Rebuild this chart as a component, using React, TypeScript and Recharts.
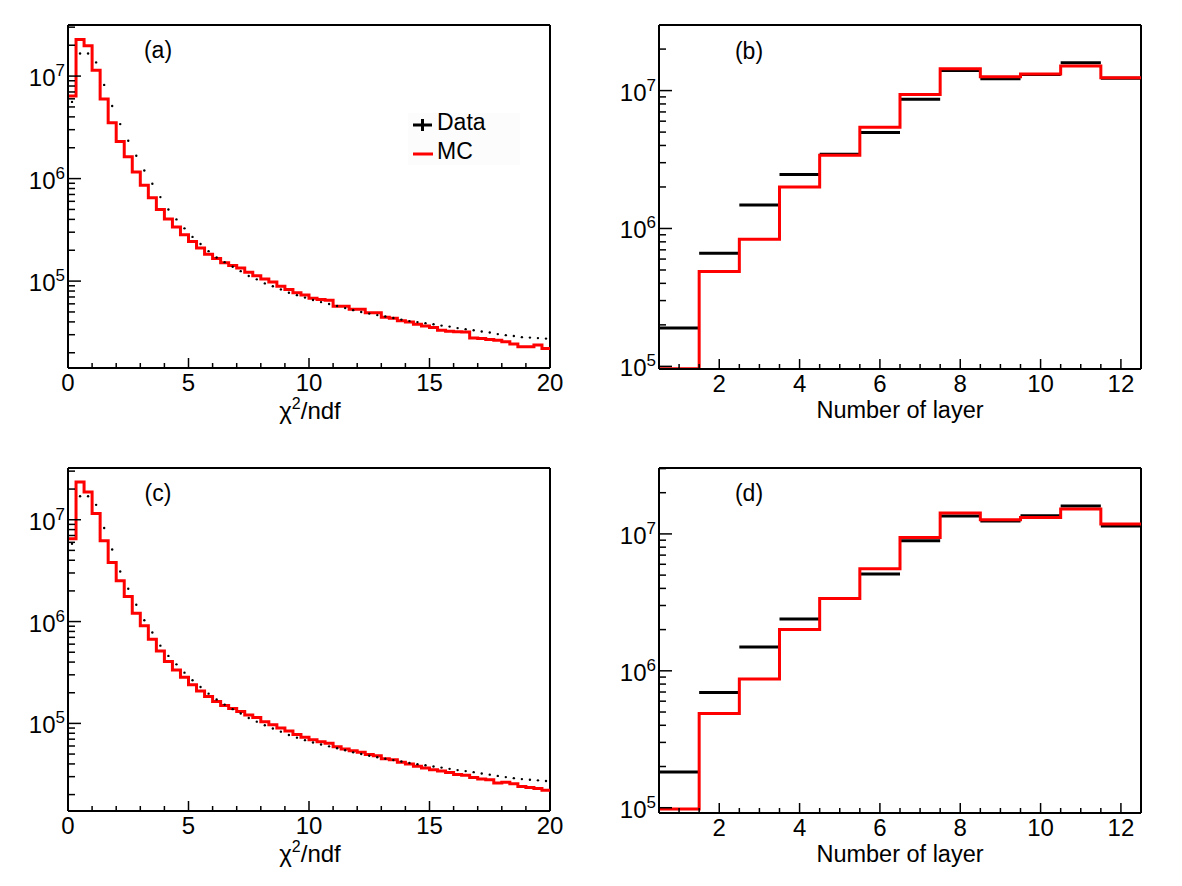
import React from 'react';
import { ComposedChart, Line, XAxis, YAxis, ReferenceLine } from 'recharts';

const FONT = '"Liberation Sans", Arial, Helvetica, sans-serif';

// chi2/ndf histograms: 60 bins of width 1/3 on [0, 20]
const chiLow = 0;
const chiBin = 1 / 3;
const chiMcA = [
  6.4e6, 2.28e7, 1.98e7, 1.14e7, 5.97e6, 3.5e6, 2.3e6, 1.63e6, 1.16e6, 8.6e5,
  6.5e5, 4.99e5, 4.03e5, 3.37e5, 2.84e5, 2.43e5, 2.1e5, 1.83e5, 1.66e5, 1.51e5,
  1.42e5, 1.34e5, 1.22e5, 1.13e5, 1.05e5, 9.8e4, 8.9e4, 8.3e4, 7.7e4, 7.3e4,
  6.8e4, 6.6e4, 6.5e4, 5.7e4, 5.7e4, 5.3e4, 5.3e4, 4.91e4, 4.91e4, 4.43e4,
  4.35e4, 4.1e4, 3.98e4, 3.8e4, 3.64e4, 3.52e4, 3.32e4, 3.25e4, 3.21e4, 3.19e4,
  2.78e4, 2.75e4, 2.7e4, 2.65e4, 2.56e4, 2.43e4, 2.29e4, 2.29e4, 2.38e4, 2.2e4,
];
const chiDataA = [
  5.6e6, 1.66e7, 1.66e7, 1.36e7, 8.2e6, 5.1e6, 3.4e6, 2.34e6, 1.67e6, 1.2e6,
  8.9e5, 6.6e5, 5.0e5, 4.0e5, 3.27e5, 2.7e5, 2.3e5, 1.96e5, 1.7e5, 1.53e5,
  1.38e5, 1.25e5, 1.12e5, 1.04e5, 9.5e4, 8.9e4, 8.3e4, 7.7e4, 7.29e4, 6.9e4,
  6.53e4, 6.24e4, 5.97e4, 5.71e4, 5.45e4, 5.21e4, 4.99e4, 4.82e4, 4.66e4, 4.51e4,
  4.36e4, 4.21e4, 4.07e4, 3.98e4, 3.89e4, 3.8e4, 3.68e4, 3.6e4, 3.48e4, 3.4e4,
  3.32e4, 3.22e4, 3.15e4, 3.04e4, 2.97e4, 2.91e4, 2.84e4, 2.81e4, 2.78e4, 2.75e4,
];
const chiMcC = [
  6.5e6, 2.35e7, 1.87e7, 1.15e7, 6.2e6, 3.8e6, 2.51e6, 1.76e6, 1.21e6, 9.1e5,
  6.7e5, 5.15e5, 4.05e5, 3.35e5, 2.84e5, 2.39e5, 2.08e5, 1.84e5, 1.64e5, 1.5e5,
  1.4e5, 1.31e5, 1.21e5, 1.14e5, 1.04e5, 9.7e4, 9.0e4, 8.4e4, 7.8e4, 7.3e4,
  6.9e4, 6.6e4, 6.4e4, 5.9e4, 5.6e4, 5.4e4, 5.2e4, 4.95e4, 4.8e4, 4.5e4,
  4.4e4, 4.15e4, 4.0e4, 3.8e4, 3.65e4, 3.5e4, 3.4e4, 3.3e4, 3.15e4, 3.1e4,
  2.95e4, 2.85e4, 2.8e4, 2.6e4, 2.65e4, 2.55e4, 2.4e4, 2.35e4, 2.3e4, 2.2e4,
];
const chiDataC = [
  5.8e6, 1.7e7, 1.7e7, 1.4e7, 8.3e6, 5.1e6, 3.1e6, 2.1e6, 1.46e6, 1.03e6,
  7.8e5, 5.8e5, 4.6e5, 3.8e5, 3.15e5, 2.65e5, 2.28e5, 1.96e5, 1.72e5, 1.53e5,
  1.38e5, 1.25e5, 1.13e5, 1.04e5, 9.6e4, 8.9e4, 8.3e4, 7.7e4, 7.25e4, 6.85e4,
  6.5e4, 6.2e4, 5.95e4, 5.7e4, 5.45e4, 5.2e4, 5.0e4, 4.82e4, 4.66e4, 4.5e4,
  4.36e4, 4.22e4, 4.08e4, 3.98e4, 3.88e4, 3.78e4, 3.68e4, 3.58e4, 3.48e4, 3.4e4,
  3.32e4, 3.22e4, 3.14e4, 3.05e4, 2.97e4, 2.9e4, 2.84e4, 2.8e4, 2.76e4, 2.72e4,
];

// number of fired layers: 12 unit bins centred on 1..12
const layerLow = 0.5;
const layerBin = 1;
const layerDataB = [1.9e5, 6.6e5, 1.48e6, 2.46e6, 3.45e6, 4.96e6, 8.66e6, 1.4e7, 1.22e7, 1.31e7, 1.59e7, 1.23e7];
const layerMcB = [9.6e4, 4.88e5, 8.37e5, 2.0e6, 3.4e6, 5.43e6, 9.36e6, 1.44e7, 1.26e7, 1.32e7, 1.51e7, 1.24e7];
const layerDataD = [1.82e5, 6.95e5, 1.49e6, 2.39e6, 3.37e6, 5.09e6, 8.93e6, 1.35e7, 1.24e7, 1.36e7, 1.6e7, 1.14e7];
const layerMcD = [9.8e4, 4.88e5, 8.73e5, 2.0e6, 3.37e6, 5.57e6, 9.4e6, 1.42e7, 1.27e7, 1.32e7, 1.52e7, 1.18e7];

// axis ticks
const decades = [1e4, 1e5, 1e6, 1e7];
const minorFactors = [2, 3, 4, 5, 6, 7, 8, 9];
const chiTicks = Array.from({ length: 21 }, (_, i) => i);
const chiLabels = [0, 5, 10, 15, 20];
const layerTicks = Array.from({ length: 23 }, (_, i) => 1 + i * 0.5);
const layerLabels = [2, 4, 6, 8, 10, 12];

type Pt = { x: number; y: number | null };

const stepPoints = (lo: number, w: number, vals: number[]): Pt[] => {
  const pts = vals.map((y, i) => ({ x: lo + i * w, y }));
  pts.push({ x: lo + vals.length * w, y: vals[vals.length - 1] });
  return pts;
};
const centrePoints = (lo: number, w: number, vals: number[]): Pt[] =>
  vals.map((y, i) => ({ x: lo + (i + 0.5) * w, y }));
const barPoints = (lo: number, w: number, vals: number[]): Pt[] =>
  vals.flatMap((y, i) => [
    { x: lo + i * w, y },
    { x: lo + (i + 1) * w, y },
    { x: lo + (i + 1) * w, y: null },
  ]);

const logTicks = (min: number, max: number) =>
  decades
    .flatMap((d) => [d, ...minorFactors.map((f) => f * d)])
    .filter((v) => v >= min && v <= max)
    .sort((a, b) => a - b);

const YTick = (props: any) => {
  const { x, y, payload } = props;
  const v = payload.value;
  const e = Math.round(Math.log10(v));
  const major = Math.abs(v - Math.pow(10, e)) < 1e-6 * v;
  return (
    <g>
      <line x1={x} x2={x + (major ? 13 : 7)} y1={y} y2={y} stroke="#000" strokeWidth={1.5} />
      {major && (
        <text x={x - 3} y={y + 10} textAnchor="end" fontSize={24} fontFamily={FONT} fill="#000">
          10<tspan dy={-10} fontSize={17}>{e}</tspan>
        </text>
      )}
    </g>
  );
};

const makeXTick = (labels: number[]) => (props: any) => {
  const { x, y, payload } = props;
  const major = labels.includes(payload.value);
  return (
    <g>
      <line x1={x} x2={x} y1={y} y2={y - (major ? 10 : 5)} stroke="#000" strokeWidth={1.5} />
      {major && (
        <text x={x} y={y + 23} textAnchor="middle" fontSize={24} fontFamily={FONT} fill="#000">
          {payload.value}
        </text>
      )}
    </g>
  );
};

type PanelProps = {
  left: number;
  top: number;
  width: number;
  height: number;
  frame: { top: number; right: number; bottom: number; left: number };
  xDomain: [number, number];
  yDomain: [number, number];
  xTicks: number[];
  xLabels: number[];
  mc: Pt[];
  data: Pt[];
  dataAsDots: boolean;
};

// the axis bands (yAxis width / xAxis height) set where the frame sits
const Panel = ({ left, top, width, height, frame, xDomain, yDomain, xTicks, xLabels, mc, data, dataAsDots }: PanelProps) => (
  <div style={{ position: 'absolute', left, top }}>
    <ComposedChart width={width} height={height} margin={{ top: frame.top, right: frame.right, left: 0, bottom: 0 }}>
      <XAxis
        type="number"
        dataKey="x"
        domain={xDomain}
        allowDataOverflow
        ticks={xTicks}
        interval={0}
        height={frame.bottom}
        tickSize={0}
        tickMargin={0}
        tickLine={false}
        axisLine={{ stroke: '#000', strokeWidth: 2 }}
        tick={makeXTick(xLabels)}
      />
      <YAxis
        type="number"
        scale="log"
        domain={yDomain}
        allowDataOverflow
        ticks={logTicks(yDomain[0], yDomain[1])}
        interval={0}
        width={frame.left}
        tickSize={0}
        tickMargin={0}
        tickLine={false}
        axisLine={{ stroke: '#000', strokeWidth: 2 }}
        tick={YTick}
      />
      <ReferenceLine y={yDomain[1]} stroke="#000" strokeWidth={2} ifOverflow="visible" />
      <ReferenceLine x={xDomain[1]} stroke="#000" strokeWidth={2} ifOverflow="visible" />
      {!dataAsDots && (
        <Line data={data} dataKey="y" stroke="#000" strokeWidth={3} dot={false} isAnimationActive={false} connectNulls={false} />
      )}
      <Line data={mc} dataKey="y" type="stepAfter" stroke="#ff0000" strokeWidth={3} dot={false} isAnimationActive={false} />
      {dataAsDots && (
        <Line
          data={data}
          dataKey="y"
          stroke="none"
          dot={{ r: 1.2, fill: '#000', stroke: 'none' }}
          isAnimationActive={false}
        />
      )}
    </ComposedChart>
  </div>
);

const chiDomainA: [number, number] = [1.42e4, 3.15e7];
const chiDomainC: [number, number] = [1.38e4, 3.22e7];
const layerDomainB: [number, number] = [9.57e4, 2.99e7];
const layerDomainD: [number, number] = [9.15e4, 3.03e7];

const textStyle = { fontFamily: FONT, fontSize: 23, fill: '#000' } as const;

const ChiTitle = ({ y }: { y: number }) => (
  <text x={310} y={y} textAnchor="middle" {...textStyle} fontSize={24}>
    χ<tspan dy={-10} fontSize={16}>2</tspan><tspan dy={10}>/ndf</tspan>
  </text>
);

export default function App() {
  return (
    <div style={{ position: 'absolute', left: 0, top: 0, width: 1182, height: 886, background: '#fff', overflow: 'hidden' }}>
      <Panel
        left={0}
        top={0}
        width={590}
        height={443}
        frame={{ top: 25, left: 68, right: 40, bottom: 75 }}
        xDomain={[0, 20]}
        yDomain={chiDomainA}
        xTicks={chiTicks}
        xLabels={chiLabels}
        mc={stepPoints(chiLow, chiBin, chiMcA)}
        data={centrePoints(chiLow, chiBin, chiDataA)}
        dataAsDots
      />
      <Panel
        left={590}
        top={0}
        width={592}
        height={443}
        frame={{ top: 25, left: 69, right: 41, bottom: 74 }}
        xDomain={[0.5, 12.5]}
        yDomain={layerDomainB}
        xTicks={layerTicks}
        xLabels={layerLabels}
        mc={stepPoints(layerLow, layerBin, layerMcB)}
        data={barPoints(layerLow, layerBin, layerDataB)}
        dataAsDots={false}
      />
      <Panel
        left={0}
        top={443}
        width={590}
        height={443}
        frame={{ top: 25, left: 68, right: 40, bottom: 75 }}
        xDomain={[0, 20]}
        yDomain={chiDomainC}
        xTicks={chiTicks}
        xLabels={chiLabels}
        mc={stepPoints(chiLow, chiBin, chiMcC)}
        data={centrePoints(chiLow, chiBin, chiDataC)}
        dataAsDots
      />
      <Panel
        left={590}
        top={443}
        width={592}
        height={443}
        frame={{ top: 25, left: 69, right: 41, bottom: 73 }}
        xDomain={[0.5, 12.5]}
        yDomain={layerDomainD}
        xTicks={layerTicks}
        xLabels={layerLabels}
        mc={stepPoints(layerLow, layerBin, layerMcD)}
        data={barPoints(layerLow, layerBin, layerDataD)}
        dataAsDots={false}
      />

      {/* panel tags, axis titles and legend */}
      <svg width={1182} height={886} style={{ position: 'absolute', left: 0, top: 0, pointerEvents: 'none' }}>
        <text x={158} y={58} textAnchor="middle" {...textStyle}>(a)</text>
        <text x={749} y={59} textAnchor="middle" {...textStyle}>(b)</text>
        <text x={158} y={501} textAnchor="middle" {...textStyle}>(c)</text>
        <text x={749} y={501} textAnchor="middle" {...textStyle}>(d)</text>

        <ChiTitle y={419} />
        <ChiTitle y={862} />
        <text x={900} y={418} textAnchor="middle" {...textStyle} fontSize={23.5}>Number of layer</text>
        <text x={900} y={862} textAnchor="middle" {...textStyle} fontSize={23.5}>Number of layer</text>

        <rect x={408} y={113} width={112} height={52} fill="#fcfcfc" />
        <line x1={413} x2={432} y1={125} y2={125} stroke="#000" strokeWidth={3} />
        <line x1={422.5} x2={422.5} y1={119} y2={131} stroke="#000" strokeWidth={3} />
        <text x={437} y={130} {...textStyle}>Data</text>
        <line x1={413} x2={433} y1={154} y2={154} stroke="#ff0000" strokeWidth={3} />
        <text x={437} y={159} {...textStyle}>MC</text>
      </svg>
    </div>
  );
}
